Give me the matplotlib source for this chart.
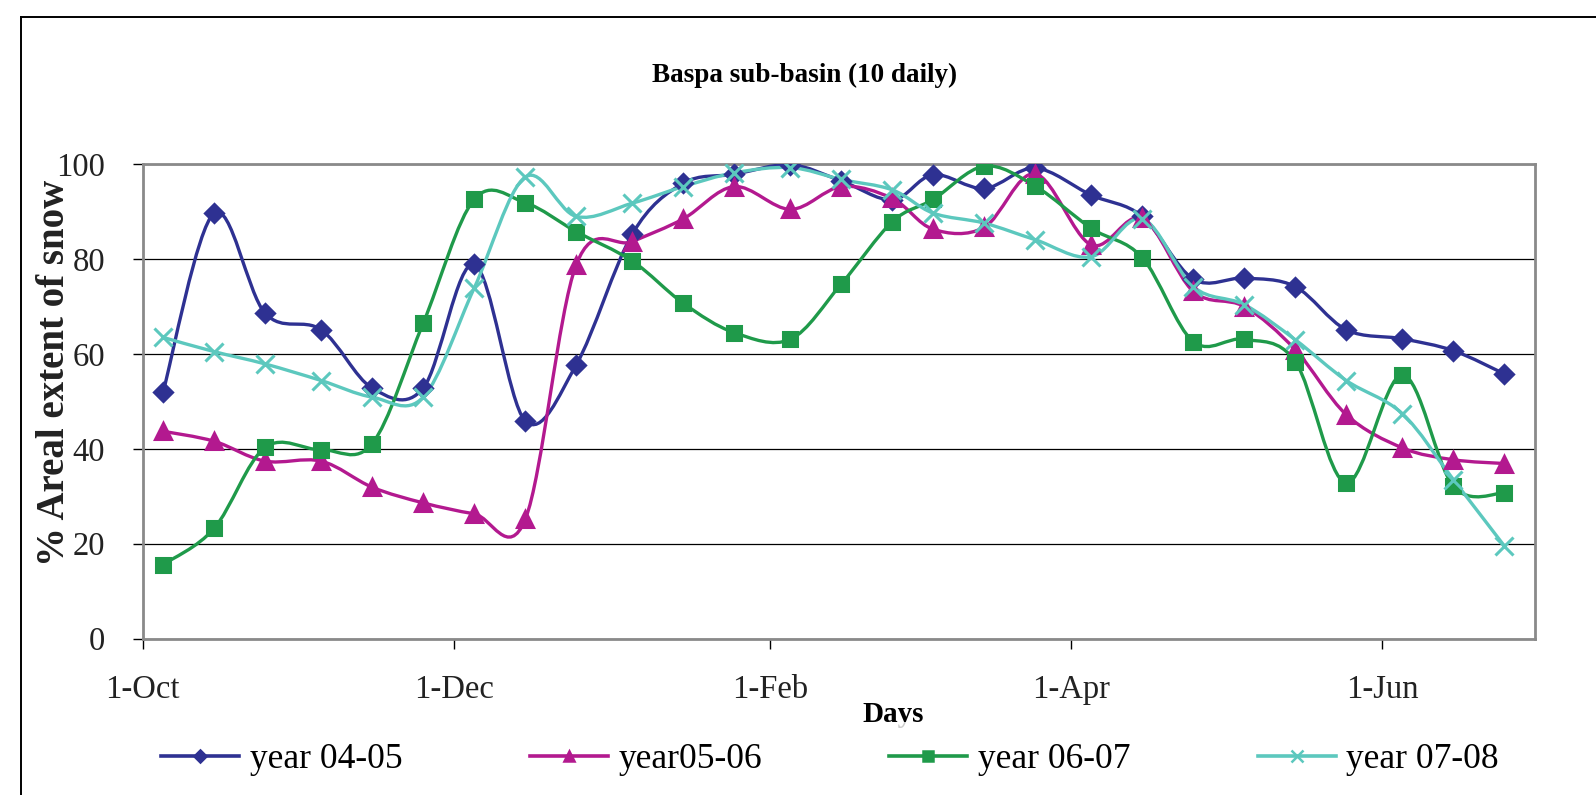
import numpy as np
import matplotlib
matplotlib.use('Agg')
import matplotlib.pyplot as plt
import matplotlib.dates as mdates
from matplotlib.path import Path
from matplotlib.patches import PathPatch
from matplotlib.lines import Line2D
import datetime as dt

plt.rcParams['font.family'] = ['Liberation Serif', 'DejaVu Serif']

# 10-daily dates (dummy years, the axis only shows day-month)
dates = ["2006-10-05", "2006-10-15", "2006-10-25", "2006-11-05", "2006-11-15",
         "2006-11-25", "2006-12-05", "2006-12-15", "2006-12-25", "2007-01-05",
         "2007-01-15", "2007-01-25", "2007-02-05", "2007-02-15", "2007-02-25",
         "2007-03-05", "2007-03-15", "2007-03-25", "2007-04-05", "2007-04-15",
         "2007-04-25", "2007-05-05", "2007-05-15", "2007-05-25", "2007-06-05",
         "2007-06-15", "2007-06-25"]

year_04_05 = [52.0, 89.7, 68.6, 65.1, 52.8, 52.8, 78.9, 45.9, 57.7, 85.3, 96.0, 97.9, 99.9, 96.5,
              92.5, 97.8, 94.9, 99.2, 93.5, 89.0, 75.8, 76.0, 74.2, 65.1, 63.2, 60.7, 55.8]
year_05_06 = [43.7, 41.6, 37.4, 37.4, 31.9, 28.6, 26.3, 25.1, 78.8, 83.7, 88.5, 95.3, 90.5, 95.3,
              92.8, 86.3, 86.7, 98.0, 83.0, 88.6, 73.2, 70.0, 60.9, 47.2, 40.2, 37.7, 36.9]
year_06_07 = [15.6, 23.2, 40.3, 39.8, 41.1, 66.5, 92.6, 91.9, 85.8, 79.6, 70.7, 64.5, 63.1, 74.8,
              87.9, 92.6, 99.6, 95.4, 86.5, 80.3, 62.6, 63.1, 58.4, 32.8, 55.6, 32.1, 30.7]
year_07_08 = [63.5, 60.5, 57.9, 54.4, 50.9, 50.9, 73.9, 97.3, 89.0, 91.8, 95.3, 98.2, 99.3, 96.8,
              94.6, 89.7, 87.6, 84.1, 80.5, 88.5, 74.2, 70.4, 63.0, 54.4, 47.4, 33.5, 19.5]

labels = ["year 04-05", "year05-06", "year 06-07", "year 07-08"]
colors = ['#2E3192', '#B3198F', '#1F9A4A', '#5CC8BE']
markers = ['D', '^', 's', 'x']
msizes = [9.5, 11, 10.5, 13]


def smooth_path(x, y):
    # excel-like smoothed line: catmull-rom turned into bezier segments
    pts = np.column_stack([x, y])
    verts = [pts[0]]
    codes = [Path.MOVETO]
    n = len(pts)
    for i in range(n - 1):
        p0 = pts[max(i - 1, 0)]
        p1 = pts[i]
        p2 = pts[i + 1]
        p3 = pts[min(i + 2, n - 1)]
        verts += [p1 + (p2 - p0) / 6, p2 - (p3 - p1) / 6, p2]
        codes += [Path.CURVE4] * 3
    return Path(verts, codes)


fig = plt.figure(figsize=(15.96, 7.95), dpi=100)
ax = fig.add_axes([142.7 / 1596, 1 - 638.5 / 795, (1535 - 142.7) / 1596, (638.5 - 164.3) / 795])

xd = mdates.date2num([dt.datetime.strptime(d, "%Y-%m-%d") for d in dates])
series = [year_04_05, year_05_06, year_06_07, year_07_08]
handles = []
for vals, lab, c, m, ms in zip(series, labels, colors, markers, msizes):
    ax.add_patch(PathPatch(smooth_path(xd, np.array(vals)), fill=False, edgecolor=c,
                           lw=2.4, zorder=3, capstyle='round', joinstyle='round'))
    ax.plot(xd, vals, linestyle='none', marker=m, ms=ms, color=c, mew=2.2, zorder=4)
    handles.append(Line2D([], [], color=c, lw=2.6, marker=m, ms=ms * 0.65, mew=1.8))

ax.set_xlim(mdates.date2num(dt.datetime(2006, 10, 1)), mdates.date2num(dt.datetime(2007, 7, 1)))
ax.set_ylim(0, 100)
ax.set_yticks([0, 20, 40, 60, 80, 100])
ax.xaxis.set_major_locator(mdates.MonthLocator(bymonth=[10, 12, 2, 4, 6], bymonthday=1))
ax.xaxis.set_major_formatter(plt.FuncFormatter(
    lambda v, p: f"{mdates.num2date(v).day}-{mdates.num2date(v).strftime('%b')}"))
ax.grid(axis='y', color='black', lw=0.9)
ax.set_axisbelow(True)
for s in ax.spines.values():
    s.set_color('#8a8a8a')
    s.set_linewidth(2)
ax.tick_params(axis='both', direction='out', length=7, width=1, color='black',
               labelsize=23.5, colors='#222222')
ax.tick_params(axis='y', pad=20)
ax.tick_params(axis='x', pad=19)

fig.text(805 / 1596, 1 - 75 / 795, "Baspa sub-basin (10 daily)", ha='center', va='center',
         fontsize=19.5, fontweight='bold')
fig.text(55 / 1596, 1 - 373 / 795, "% Areal extent of snow", rotation=90, ha='center',
         va='center', fontsize=28, fontweight='bold', color='#222222')
fig.text(893 / 1596, 1 - 714 / 795, "Days", ha='center', va='center', fontsize=21,
         fontweight='bold')

leg = fig.legend(handles, labels, loc='center', bbox_to_anchor=(830 / 1596, 1 - 760 / 795),
                 ncol=4, fontsize=25.5, frameon=True, handlelength=2.2, handletextpad=0.3,
                 columnspacing=3.6, borderpad=0.6, fancybox=False)
leg.get_frame().set_facecolor('white')
leg.get_frame().set_edgecolor('none')
leg.set_zorder(10)

# outer chart border (only left and top visible)
fig.add_artist(Line2D([20.7 / 1596, 20.7 / 1596], [0, 1 - 17.3 / 795], color='black', lw=1.4,
                      transform=fig.transFigure))
fig.add_artist(Line2D([20.7 / 1596, 1], [1 - 17.3 / 795, 1 - 17.3 / 795], color='black', lw=1.4,
                      transform=fig.transFigure))

fig.savefig('out.png', dpi=100)
